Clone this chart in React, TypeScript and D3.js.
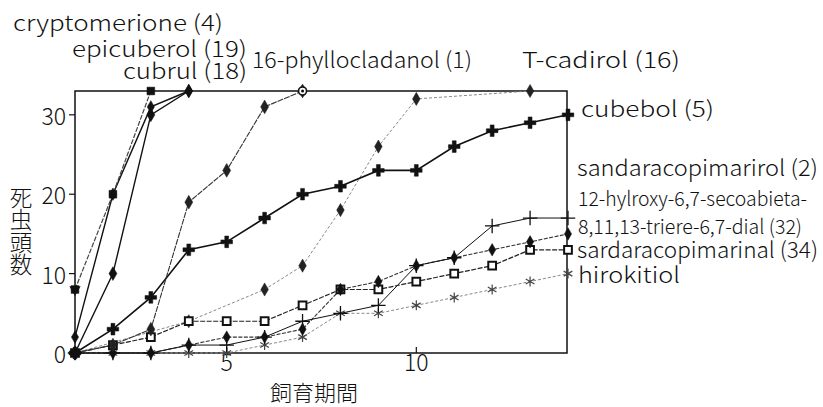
import React from "react";
import * as d3 from "d3";

// Rearing day (x) and cumulative number of dead insects (y) per compound
const days = [1, 2, 3, 4, 5, 6, 7, 8, 9, 10, 11, 12, 13, 14];

const cryptomerione = [8, 20, 33, null, null, null, null, null, null, null, null, null, null, null];
const epicuberol = [2, 20, 31, 33, null, null, null, null, null, null, null, null, null, null];
const cubrul = [0, 10, 30, 33, null, null, null, null, null, null, null, null, null, null];
const phyllocladanol = [0, 1, 3, 19, 23, 31, 33, null, null, null, null, null, null, null];
const tCadirol = [0, null, null, 4, null, 8, 11, 18, 26, 32, null, null, 33, null];
const cubebol = [0, 3, 7, 13, 14, 17, 20, 21, 23, 23, 26, 28, 29, 30];
const sandaracopimarirol = [0, 0, 0, 1, 2, 2, 3, 8, 9, 11, 12, 13, 14, 15];
const secoabietaDial = [0, 0, 0, 1, 1, 2, 4, 5, 6, 11, 12, 16, 17, 17];
const sardaracopimarinal = [0, 1, 2, 4, 4, 4, 6, 8, 8, 9, 10, 11, 13, 13];
const hirokitiol = [0, 0, 0, 0, 0, 1, 2, 5, 5, 6, 7, 8, 9, 10];

const yTicks = [0, 10, 20, 30];
const xTicks = [5, 10];
const yTitle = "死虫頭数";
const xTitle = "飼育期間";

const topLabels = [
  "cryptomerione (4)",
  "epicuberol (19)",
  "cubrul (18)",
  "16-phyllocladanol (1)",
  "T-cadirol (16)",
];
const sideLabels = [
  "cubebol (5)",
  "sandaracopimarirol (2)",
  "12-hylroxy-6,7-secoabieta-",
  "8,11,13-triere-6,7-dial (32)",
  "sardaracopimarinal (34)",
  "hirokitiol",
];

const FONT = "'Noto Sans CJK JP', 'Noto Sans', sans-serif";

type Style = {
  values: (number | null)[];
  stroke: string;
  width: number;
  dash?: string;
  symbol: d3.SymbolType;
  size: number;
  fill: string;
  mStroke: string;
  mWidth: number;
};

const series: Style[] = [
  { values: hirokitiol, stroke: "#888", width: 1, dash: "3,2", symbol: d3.symbolAsterisk, size: 70, fill: "none", mStroke: "#444", mWidth: 1.2 },
  { values: tCadirol, stroke: "#888", width: 1, dash: "3,2", symbol: d3.symbolDiamond, size: 50, fill: "#222", mStroke: "#222", mWidth: 0.5 },
  { values: sardaracopimarinal, stroke: "#222", width: 1.2, dash: "5,1.5", symbol: d3.symbolSquare, size: 60, fill: "#fff", mStroke: "#111", mWidth: 2 },
  { values: sandaracopimarirol, stroke: "#333", width: 1.1, dash: "4,1.5", symbol: d3.symbolDiamond, size: 45, fill: "#111", mStroke: "#111", mWidth: 0.5 },
  { values: secoabietaDial, stroke: "#111", width: 1, symbol: d3.symbolPlus, size: 70, fill: "none", mStroke: "#111", mWidth: 1.3 },
  { values: cubebol, stroke: "#111", width: 1.6, symbol: d3.symbolCross, size: 75, fill: "#111", mStroke: "#111", mWidth: 0.5 },
  { values: phyllocladanol, stroke: "#333", width: 1.1, dash: "6,1", symbol: d3.symbolDiamond, size: 55, fill: "#222", mStroke: "#222", mWidth: 0.5 },
  { values: cubrul, stroke: "#111", width: 1.4, symbol: d3.symbolDiamond, size: 55, fill: "#111", mStroke: "#111", mWidth: 0.5 },
  { values: epicuberol, stroke: "#111", width: 1.4, symbol: d3.symbolDiamond, size: 45, fill: "#111", mStroke: "#111", mWidth: 0.5 },
  { values: cryptomerione, stroke: "#444", width: 1.2, dash: "5,1.5", symbol: d3.symbolSquare, size: 60, fill: "#111", mStroke: "#111", mWidth: 0.5 },
];

export default function App() {
  const W = 823;
  const H = 407;
  const x = d3.scaleLinear().domain([1, 14]).range([75, 568]);
  const y = d3.scaleLinear().domain([0, 33]).range([353, 91]);

  const line = d3
    .line<[number, number]>()
    .x((d) => x(d[0]))
    .y((d) => y(d[1]));

  const topPos = [
    { x: 13, y: 31, w: 210 },
    { x: 72, y: 57, w: 175 },
    { x: 123, y: 79, w: 124 },
    { x: 252, y: 68, w: 220 },
    { x: 522, y: 68, w: 158 },
  ];
  const sidePos = [
    { x: 581, y: 117, w: 133, fs: 22 },
    { x: 577, y: 176, w: 241, fs: 22 },
    { x: 578, y: 206, w: 229, fs: 20 },
    { x: 578, y: 234, w: 224, fs: 20 },
    { x: 577, y: 258, w: 241, fs: 22 },
    { x: 578, y: 283, w: 102, fs: 22 },
  ];

  return (
    <svg
      width={W}
      height={H}
      style={{ position: "absolute", left: 0, top: 0, background: "#fff" }}
      fontFamily={FONT}
      fontWeight={300}
    >
      <rect x={0} y={0} width={W} height={H} fill="#fff" />

      {/* plot frame */}
      <rect
        x={x(1)}
        y={y(33)}
        width={x(14) - x(1) - 1}
        height={y(0) - y(33)}
        fill="none"
        stroke="#111"
        strokeWidth={1.5}
      />

      {/* y axis ticks */}
      {yTicks.map((t) => (
        <g key={"y" + t}>
          <line x1={x(1) - 6} x2={x(1)} y1={y(t)} y2={y(t)} stroke="#111" strokeWidth={1.2} />
          <text
            x={66}
            y={y(t)}
            textAnchor="end"
            dominantBaseline="central"
            fontSize={23}
            fill="#111"
          >
            {t}
          </text>
        </g>
      ))}

      {/* x axis ticks */}
      {xTicks.map((t) => (
        <g key={"x" + t}>
          <line x1={x(t)} x2={x(t)} y1={y(0)} y2={y(0) - 6} stroke="#111" strokeWidth={1.2} />
          <text x={x(t)} y={371} textAnchor="middle" fontSize={23} fill="#111">
            {t}
          </text>
        </g>
      ))}

      {/* axis titles: y title set vertically, one character per line */}
      <text
        x={21}
        y={186}
        fontSize={22.5}
        fill="#111"
        style={{ writingMode: "vertical-rl", textOrientation: "upright" } as React.CSSProperties}
      >
        {yTitle}
      </text>
      <text x={314} y={391} textAnchor="middle" dominantBaseline="central" fontSize={22} fill="#111">
        {xTitle}
      </text>

      {/* series lines (unmeasured days skipped, neighbouring points joined) */}
      {series.map((s, i) => {
        const pts = days
          .map((d, j) => [d, s.values[j]] as [number, number | null])
          .filter((p) => p[1] !== null) as [number, number][];
        return (
          <path
            key={"l" + i}
            d={line(pts) || ""}
            fill="none"
            stroke={s.stroke}
            strokeWidth={s.width}
            strokeDasharray={s.dash}
          />
        );
      })}

      {/* series markers */}
      {series.map((s, i) => {
        const sym = d3.symbol().type(s.symbol).size(s.size)();
        return (
          <g key={"m" + i}>
            {days.map((d, j) =>
              s.values[j] === null ? null : (
                <path
                  key={j}
                  d={sym || ""}
                  transform={`translate(${x(d)},${y(s.values[j] as number)})`}
                  fill={s.fill}
                  stroke={s.mStroke}
                  strokeWidth={s.mWidth}
                />
              )
            )}
          </g>
        );
      })}

      {/* special start / end markers */}
      <path
        d={d3.symbol().type(d3.symbolTriangle).size(55)() || ""}
        transform={`translate(${x(1)},${y(cryptomerione[0] as number)}) rotate(180)`}
        fill="#111"
      />
      <circle cx={x(7)} cy={y(phyllocladanol[6] as number)} r={4} fill="#fff" stroke="#111" strokeWidth={1.6} />
      <circle cx={x(7)} cy={y(phyllocladanol[6] as number)} r={1.5} fill="#111" />

      {/* compound labels */}
      {topLabels.map((t, i) => (
        <text
          key={t}
          x={topPos[i].x}
          y={topPos[i].y}
          fontSize={22}
          fill="#111"
          textLength={topPos[i].w}
          lengthAdjust="spacingAndGlyphs"
        >
          {t}
        </text>
      ))}
      {sideLabels.map((t, i) => (
        <text
          key={t}
          x={sidePos[i].x}
          y={sidePos[i].y}
          fontSize={sidePos[i].fs}
          fill="#111"
          textLength={sidePos[i].w}
          lengthAdjust="spacingAndGlyphs"
        >
          {t}
        </text>
      ))}
    </svg>
  );
}
